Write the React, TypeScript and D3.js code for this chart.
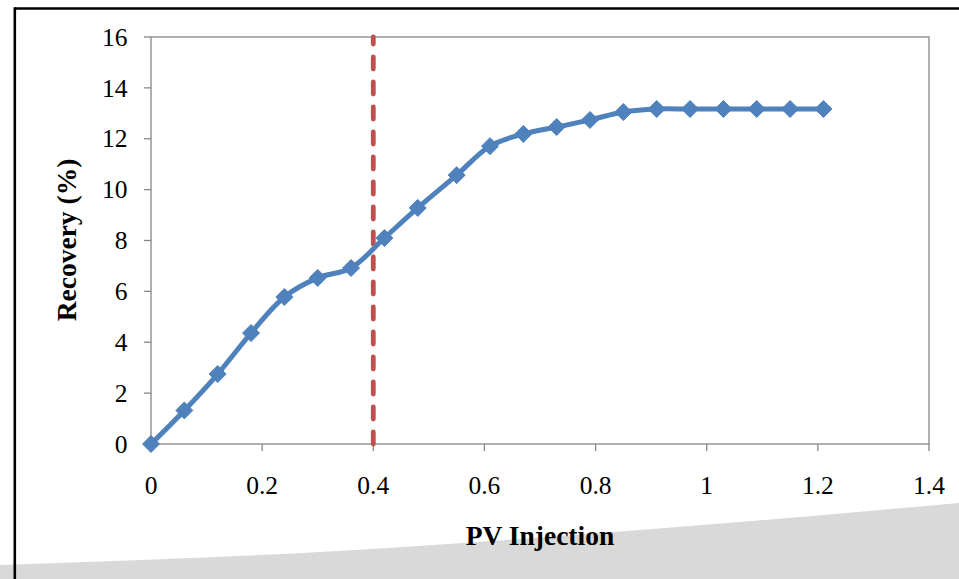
import React from "react";
import * as d3 from "d3";

const pvInjection = [0, 0.06, 0.12, 0.18, 0.24, 0.3, 0.36, 0.42, 0.48, 0.55, 0.61, 0.67, 0.73, 0.79, 0.85, 0.91, 0.97, 1.03, 1.09, 1.15, 1.21];
const recovery = [0, 1.32, 2.75, 4.36, 5.78, 6.53, 6.92, 8.1, 9.28, 10.57, 11.71, 12.19, 12.46, 12.74, 13.05, 13.17, 13.17, 13.17, 13.17, 13.17, 13.17];
const xTicks = [0, 0.2, 0.4, 0.6, 0.8, 1, 1.2, 1.4];
const yTicks = [0, 2, 4, 6, 8, 10, 12, 14, 16];
const breakthroughPV = 0.4;

const W = 959;
const H = 579;
const left = 151, right = 929, top = 37, bottom = 444;

export default function App() {
  const x = d3.scaleLinear().domain([0, 1.4]).range([left, right]);
  const y = d3.scaleLinear().domain([0, 16]).range([bottom, top]);
  const pts: [number, number][] = pvInjection.map((v, i) => [x(v), y(recovery[i])]);
  const line = d3.line().curve(d3.curveCatmullRom.alpha(0.5))(pts) as string;
  const diamond = (cx: number, cy: number, r: number) => `M${cx},${cy - r}L${cx + r},${cy}L${cx},${cy + r}L${cx - r},${cy}Z`;
  const bg = d3.line().curve(d3.curveMonotoneX)([[0, 565], [320, 552], [640, 530], [959, 503]]) as string;
  const font = "'Liberation Serif', 'Times New Roman', serif";
  const axisColor = "#868686";
  return (
    <svg width={W} height={H} style={{ position: "absolute", left: 0, top: 0, display: "block" }}>
      <rect x={0} y={0} width={W} height={H} fill="#fff" />
      <path d={`${bg}L959,579L0,579Z`} fill="#d9d9d9" />
      <line x1={14.8} y1={8.5} x2={W} y2={8.5} stroke="#000" strokeWidth={2.6} />
      <line x1={14.8} y1={7.3} x2={14.8} y2={H} stroke="#000" strokeWidth={2.6} />
      <rect x={left} y={top} width={right - left} height={bottom - top} fill="none" stroke={axisColor} strokeWidth={1.3} />
      {yTicks.map((t) => (
        <g key={"y" + t}>
          <line x1={left - 7} x2={left} y1={y(t)} y2={y(t)} stroke={axisColor} strokeWidth={1.3} />
          <text x={127.5} y={y(t)} dy="0.34em" textAnchor="end" fontFamily={font} fontSize={25.5} fill="#000">{t}</text>
        </g>
      ))}
      {xTicks.map((t) => (
        <g key={"x" + t}>
          <line x1={x(t)} x2={x(t)} y1={bottom} y2={bottom + 7} stroke={axisColor} strokeWidth={1.3} />
          <text x={x(t)} y={494} textAnchor="middle" fontFamily={font} fontSize={25.5} fill="#000">{t}</text>
        </g>
      ))}
      <line x1={x(breakthroughPV)} x2={x(breakthroughPV)} y1={y(0)} y2={y(16)} stroke="#c0504d" strokeWidth={4.8} strokeDasharray="12 13" strokeLinecap="round" />
      <path d={line} fill="none" stroke="#4f81bd" strokeWidth={5} strokeLinejoin="round" />
      {pts.map(([cx, cy], i) => (
        <path key={i} d={diamond(cx, cy, 8.5)} fill="#4f81bd" stroke="#4f81bd" strokeWidth={1} />
      ))}
      <text transform={`translate(76,240) rotate(-90)`} textAnchor="middle" fontFamily={font} fontWeight="bold" fontSize={27.5} fill="#000">Recovery (%)</text>
      <text x={540} y={545} textAnchor="middle" fontFamily={font} fontWeight="bold" fontSize={27.5} fill="#000">PV Injection</text>
    </svg>
  );
}
